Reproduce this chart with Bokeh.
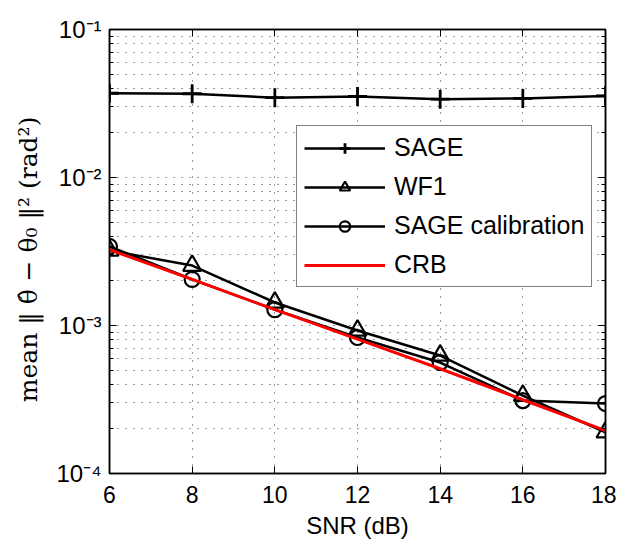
from bokeh.plotting import figure
from bokeh.models import (FixedTicker, LogAxis, LinearAxis, CustomJSTickFormatter,
                          Legend, LegendItem, Range1d)
from bokeh.embed import file_html
from bokeh.resources import INLINE

snr = [6, 8, 10, 12, 14, 16, 18]
sage = [0.0371, 0.0368, 0.0346, 0.0353, 0.0338, 0.0342, 0.0356]
wf1 = [3.21e-3, 2.54e-3, 1.43e-3, 9.25e-4, 6.27e-4, 3.36e-4, 1.9e-4]
sage_cal = [3.42e-3, 2.05e-3, 1.28e-3, 8.3e-4, 5.62e-4, 3.11e-4, 2.97e-4]
crb = [3.25e-3, 2.05e-3, 1.28e-3, 8.1e-4, 5.1e-4, 3.15e-4, 1.95e-4]

x_ticks = [6, 8, 10, 12, 14, 16, 18]
y_ticks = [1e-4, 1e-3, 1e-2, 1e-1]
y_tick_labels = ["10⁻⁴", "10⁻³", "10⁻²", "10⁻¹"]
y_minor = [m * 10.0 ** e for e in range(-4, -1) for m in range(2, 10)]

FONT = "Liberation Sans"

p = figure(width=616, height=541, y_axis_type="log",
           x_range=Range1d(6, 18), y_range=Range1d(1e-4, 1e-1),
           output_backend="svg", toolbar_location=None,
           min_border_left=109, min_border_right=11, min_border_top=29,
           min_border_bottom=61, background_fill_color="white",
           border_fill_color="white", outline_line_color="black",
           outline_line_width=1.5)

ytick = FixedTicker(ticks=y_ticks, minor_ticks=y_minor)
xtick = FixedTicker(ticks=x_ticks, minor_ticks=[])
yfmt = CustomJSTickFormatter(args=dict(tvals=y_ticks, tlabels=y_tick_labels), code="""
const i = tvals.findIndex(t => Math.abs(Math.log10(t) - Math.log10(tick)) < 1e-6);
return i >= 0 ? tlabels[i] : '';
""")
blank = CustomJSTickFormatter(code="return '';")

# left / bottom axes
ax_y = p.yaxis[0]
ax_y.ticker = ytick
ax_y.formatter = yfmt
ax_x = p.xaxis[0]
ax_x.ticker = xtick

for ax in (ax_x, ax_y):
    ax.axis_line_color = "black"
    ax.axis_line_width = 1.5
    ax.major_tick_in = 7
    ax.major_tick_out = 0
    ax.minor_tick_in = 4
    ax.minor_tick_out = 0
    ax.major_tick_line_color = "black"
    ax.minor_tick_line_color = "black"
    ax.major_label_text_font = FONT
    ax.major_label_text_color = "black"
    ax.axis_label_text_color = "black"

ax_x.major_label_text_font_size = "23px"
ax_y.major_label_text_font_size = "24px"
ax_x.major_label_standoff = 12
ax_y.major_label_standoff = 8
ax_x.axis_label = "SNR (dB)"
ax_x.axis_label_text_font = FONT
ax_x.axis_label_text_font_size = "24px"
ax_x.axis_label_text_font_style = "normal"
ax_x.axis_label_standoff = 6

ax_y.axis_label = "mean  ‖ θ̂ − θ₀ ‖²  (rad²)"
ax_y.axis_label_text_font = "DejaVu Serif"
ax_y.axis_label_text_font_size = "25px"
ax_y.axis_label_text_font_style = "normal"
ax_y.axis_label_standoff = 10

# top / right axes (box ticks)
top = LinearAxis(ticker=xtick, formatter=blank)
right = LogAxis(ticker=ytick, formatter=blank)
for ax in (top, right):
    ax.axis_line_color = "black"
    ax.axis_line_width = 1.5
    ax.major_tick_in = 7
    ax.major_tick_out = 0
    ax.minor_tick_in = 4
    ax.minor_tick_out = 0
    ax.major_label_standoff = 0
    ax.major_label_text_font_size = "1px"
p.add_layout(top, "above")
p.add_layout(right, "right")

# grids
p.xgrid.ticker = xtick
p.ygrid.ticker = ytick
for g in (p.xgrid[0], p.ygrid[0]):
    g.grid_line_color = "#333333"
    g.grid_line_width = 1
    g.grid_line_dash = "1 7"
p.ygrid.minor_grid_line_color = "#333333"
p.ygrid.minor_grid_line_width = 1
p.ygrid.minor_grid_line_dash = "1 7"

# series
l1 = p.line(snr, sage, line_color="black", line_width=2.5)
m1 = p.scatter(snr, sage, marker="cross", size=19, line_color="black", line_width=2.8)
l2 = p.line(snr, wf1, line_color="black", line_width=2.5)
m2 = p.scatter(snr, wf1, marker="triangle", size=18, line_color="black",
               line_width=2.2, fill_alpha=0)
l3 = p.line(snr, sage_cal, line_color="black", line_width=2.5)
m3 = p.scatter(snr, sage_cal, marker="circle", size=15, line_color="black",
               line_width=2.2, fill_alpha=0)
l4 = p.line(snr, crb, line_color="#ff0000", line_width=3)

legend = Legend(items=[
    LegendItem(label="SAGE", renderers=[l1, m1]),
    LegendItem(label="WF1", renderers=[l2, m2]),
    LegendItem(label="SAGE calibration", renderers=[l3, m3]),
    LegendItem(label="CRB", renderers=[l4]),
], location=(187, 186))
legend.label_text_font = FONT
legend.label_text_font_size = "25px"
legend.label_text_color = "black"
legend.glyph_width = 81
legend.glyph_height = 26
legend.label_height = 26
legend.label_standoff = 9
legend.spacing = 10
legend.padding = 7
legend.margin = 0
legend.border_line_color = "black"
legend.border_line_width = 1.5
legend.background_fill_color = "white"
legend.background_fill_alpha = 1
p.add_layout(legend, "center")

open("out.html", "w").write(file_html(p, INLINE))
